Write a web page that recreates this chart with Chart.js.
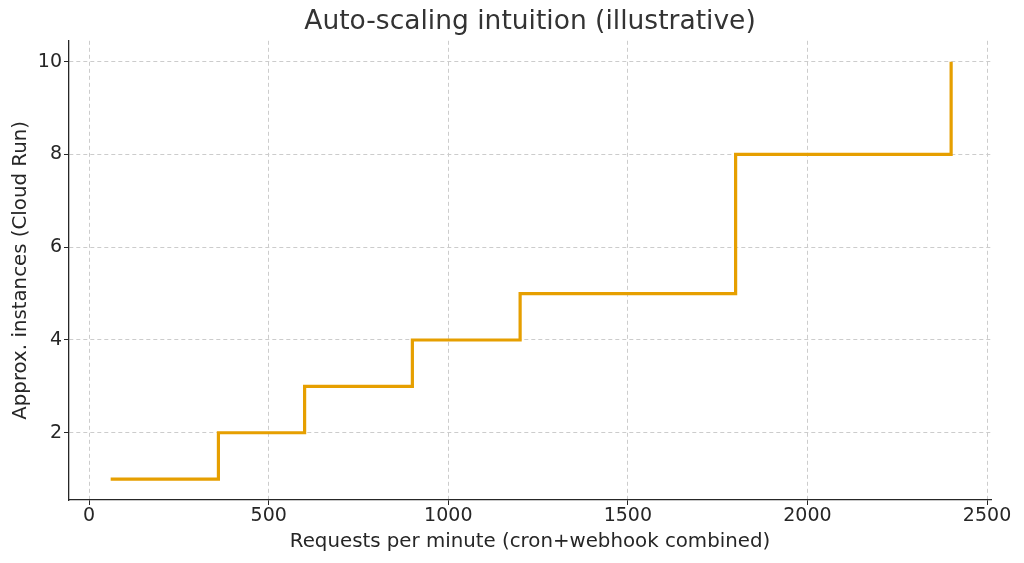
<!DOCTYPE html>
<html>
<head>
<meta charset="utf-8">
<script src="https://cdn.jsdelivr.net/npm/chart.js@4.4.1/dist/chart.umd.min.js"></script>
<style>
  html, body { margin: 0; padding: 0; background: #fff; }
  #wrap { width: 1024px; height: 563px; }
</style>
</head>
<body>
<div id="wrap"><canvas id="stepChart" width="1024" height="563"></canvas></div>
<script>
// requests per minute where the instance count changes
const requestsPerMin = [60, 360, 600, 900, 1200, 1800, 2400];
const instances = [1, 2, 3, 4, 5, 8, 10];
const xTicks = [0, 500, 1000, 1500, 2000, 2500];
const yTicks = [2, 4, 6, 8, 10];

const FONT = "'DejaVu Sans', sans-serif";
const TEXT = '#262626';

const ctx = document.getElementById('stepChart').getContext('2d');

new Chart(ctx, {
    type: 'line',
    data: {
        datasets: [{
            data: requestsPerMin.map((x, i) => ({ x: x, y: instances[i] })),
            borderColor: '#E69F00',
            borderWidth: 3.2,
            pointRadius: 0,
            stepped: 'before',
            fill: false
        }]
    },
    options: {
        responsive: false,
        animation: false,
        layout: { padding: { left: 0, right: 33, top: 0, bottom: 0 } },
        plugins: {
            legend: { display: false },
            tooltip: { enabled: false },
            title: {
                display: true,
                fullSize: false,
                text: 'Auto-scaling intuition (illustrative)',
                color: '#333',
                font: { family: FONT, size: 26.5, weight: 'normal' },
                padding: { top: 6, bottom: 3 }
            }
        },
        scales: {
            x: {
                type: 'linear',
                min: -56,
                max: 2511,
                afterBuildTicks: s => { s.ticks = xTicks.map(v => ({ value: v })); },
                afterFit: s => { s.height = 63; },
                ticks: { color: TEXT, font: { family: FONT, size: 19 }, padding: 0, maxRotation: 0,
                         callback: v => String(v) },
                grid: { color: '#cccccc', lineWidth: 1, tickLength: 5, tickColor: TEXT, tickWidth: 1 },
                border: { color: TEXT, width: 1.3, dash: [4, 3] },
                title: {
                    display: true,
                    text: 'Requests per minute (cron+webhook combined)',
                    color: TEXT,
                    font: { family: FONT, size: 19.8 },
                    padding: { top: 0, bottom: 9 }
                }
            },
            y: {
                type: 'linear',
                min: 0.55,
                max: 10.45,
                afterBuildTicks: s => { s.ticks = yTicks.map(v => ({ value: v })); },
                afterFit: s => { s.width = 69; },
                ticks: { color: TEXT, font: { family: FONT, size: 19 }, padding: 2,
                         callback: v => String(v) },
                grid: { color: '#cccccc', lineWidth: 1, tickLength: 5, tickColor: TEXT, tickWidth: 1 },
                border: { color: TEXT, width: 1.3, dash: [4, 3] },
                title: {
                    display: true,
                    text: 'Approx. instances (Cloud Run)',
                    color: TEXT,
                    font: { family: FONT, size: 19.8 },
                    padding: { top: 9, bottom: 0 }
                }
            }
        }
    }
});
</script>
</body>
</html>
